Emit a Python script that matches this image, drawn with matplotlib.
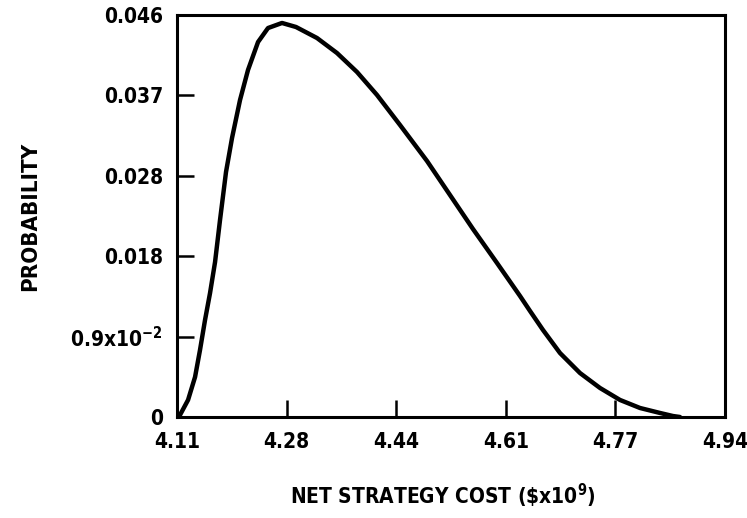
import matplotlib
matplotlib.use('Agg')
import matplotlib.pyplot as plt

# curve (net strategy cost in $x10^9, probability)
cost = [4.1100, 4.1145, 4.1267, 4.1373, 4.1448, 4.1524, 4.1600, 4.1676,
        4.1751, 4.1842, 4.1933, 4.2054, 4.2175, 4.2327, 4.2478, 4.2690,
        4.2902, 4.3220, 4.3523, 4.3826, 4.4129, 4.4478, 4.4887, 4.5235,
        4.5583, 4.5947, 4.6295, 4.6447, 4.6643, 4.6901, 4.7204, 4.7507,
        4.7810, 4.8113, 4.8416, 4.8613, 4.8718]
prob = [0.0, 0.00023, 0.00195, 0.00458, 0.00767, 0.0111, 0.01419, 0.01774,
        0.02254, 0.02804, 0.03193, 0.03627, 0.03971, 0.04291, 0.04451,
        0.04509, 0.04463, 0.04337, 0.04165, 0.03948, 0.03685, 0.03341,
        0.02929, 0.0254, 0.02151, 0.01762, 0.01385, 0.01213, 0.00996,
        0.00732, 0.00503, 0.00332, 0.00195, 0.00103, 0.00046, 0.00011, 0.0]

x_ticks = [4.11, 4.276, 4.442, 4.608, 4.774, 4.94]
x_labels = ['4.11', '4.28', '4.44', '4.61', '4.77', '4.94']
y_ticks = [0.0, 0.0092, 0.0184, 0.0276, 0.0368, 0.046]
y_labels = ['0', '0.9x10$^{-2}$', '0.018', '0.028', '0.037', '0.046']

plt.rcParams['font.family'] = ['DejaVu Sans']
plt.rcParams['font.stretch'] = 'condensed'
plt.rcParams['font.weight'] = 'bold'
plt.rcParams['mathtext.default'] = 'regular'

fig = plt.figure(figsize=(7.47, 5.18), dpi=100)
ax = fig.add_axes([0.237, 0.195, 0.7335, 0.776])

ax.plot(cost, prob, color='black', lw=3.2, solid_capstyle='round',
        solid_joinstyle='round')

ax.set_xlim(4.11, 4.94)
ax.set_ylim(0, 0.046)
ax.set_xticks(x_ticks)
ax.set_xticklabels(x_labels)
ax.set_yticks(y_ticks)
ax.set_yticklabels(y_labels)

for s in ax.spines.values():
    s.set_linewidth(2.2)
ax.tick_params(direction='in', length=12, width=1.8, labelsize=15)
ax.tick_params(axis='x', pad=11)
ax.tick_params(axis='y', pad=10)

ax.set_xlabel('NET STRATEGY COST (\\$x10$^9$)', fontsize=15, fontweight='bold')
ax.set_ylabel('PROBABILITY', fontsize=16, fontweight='bold')
ax.xaxis.set_label_coords(0.485, -0.16)
ax.yaxis.set_label_coords(-0.25, 0.5)

plt.savefig('out.png', dpi=100)
